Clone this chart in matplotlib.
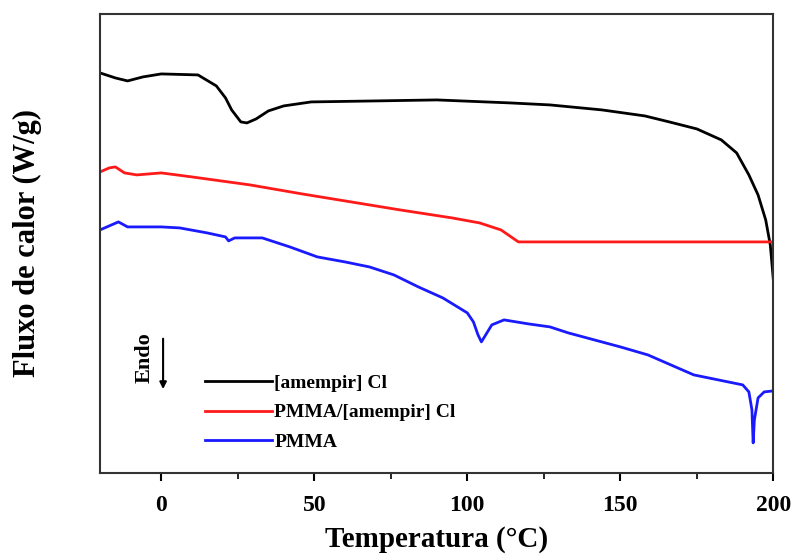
import matplotlib
matplotlib.use("Agg")
import matplotlib.pyplot as plt
from matplotlib.ticker import MultipleLocator

# DSC curves (arbitrary heat-flow units)
t_il = [-20, -15, -11, -6, 0, 12, 18, 21, 23, 26, 28, 31, 35, 40, 49, 70, 90,
        114, 127, 144, 158, 166, 175, 183, 188, 192, 195, 197.5, 199, 200]
q_il = [4.00, 3.95, 3.92, 3.96, 3.99, 3.98, 3.87, 3.75, 3.63, 3.51, 3.50, 3.54,
        3.62, 3.67, 3.71, 3.72, 3.73, 3.70, 3.68, 3.63, 3.57, 3.51, 3.44, 3.33,
        3.20, 2.98, 2.78, 2.53, 2.28, 1.93]

t_blend = [-20, -17, -15, -12, -8, 0, 10, 29, 46, 62, 78, 95, 104, 111, 116.7, 200]
q_blend = [3.01, 3.05, 3.06, 3.00, 2.98, 3.00, 2.96, 2.88, 2.79, 2.71, 2.63,
           2.55, 2.50, 2.43, 2.31, 2.31]

t_pmma = [-20, -17, -14, -11, 0, 6, 15, 21, 22, 24, 33, 42, 51, 60, 68, 76, 84,
          92, 100, 102, 103.5, 104.6, 106, 108, 112, 120, 127, 133, 150, 159,
          168, 174, 182, 190, 192, 193, 193.4, 193.8, 195, 197, 200]
q_pmma = [2.43, 2.47, 2.51, 2.46, 2.46, 2.45, 2.40, 2.36, 2.32, 2.35, 2.35, 2.26,
          2.16, 2.11, 2.06, 1.98, 1.86, 1.75, 1.60, 1.51, 1.38, 1.31, 1.38, 1.48,
          1.53, 1.49, 1.46, 1.40, 1.26, 1.18, 1.06, 0.98, 0.93, 0.88, 0.81, 0.63,
          0.30, 0.53, 0.75, 0.81, 0.82]

labels = ["[amempir] Cl", "PMMA/[amempir] Cl", "PMMA"]

SERIF = ["Liberation Serif", "DejaVu Serif"]
plt.rcParams.update({"font.family": SERIF, "font.weight": "bold",
                     "axes.labelweight": "bold"})

fig = plt.figure(figsize=(7.94, 5.57), dpi=100)
ax = fig.add_axes([0.126, 0.151, 0.848, 0.824])

ax.plot(t_il, q_il, color="black", lw=2, label=labels[0])
ax.plot(t_blend, q_blend, color="#FF1A1A", lw=2, label=labels[1])
ax.plot(t_pmma, q_pmma, color="#1A1AFF", lw=2, label=labels[2])

ax.set_xlim(-20, 200)
ax.set_ylim(0, 4.59)
ax.xaxis.set_major_locator(MultipleLocator(50))
ax.xaxis.set_minor_locator(MultipleLocator(25))
ax.set_yticks([])
ax.tick_params(axis="x", which="major", direction="out", length=6, width=1.5,
               labelsize=17, pad=10, top=False)
ax.tick_params(axis="x", which="minor", direction="out", length=4, width=1.2,
               top=False)
for s in ax.spines.values():
    s.set_linewidth(1.5)
    s.set_color("#333333")

ax.set_xlabel("Temperatura (°C)", fontsize=21)
ax.xaxis.set_label_coords(0.5, -0.115)
ax.set_ylabel("Fluxo de calor (W/g)", fontsize=22)
ax.yaxis.set_label_coords(-0.086, 0.5)

# endothermic direction marker
ax.annotate("", xy=(0.6, 0.81), xytext=(0.6, 1.37),
            arrowprops=dict(arrowstyle="-|>", color="black", lw=1.5,
                            mutation_scale=10))
ax.text(-5.6, 1.15, "Endo", rotation=90, ha="center", va="center", fontsize=16)

ax.legend(loc="upper left", bbox_to_anchor=(0.145, 0.232), frameon=False,
          fontsize=14, handlelength=3.4, handletextpad=0.15, labelspacing=0.62,
          borderaxespad=0)

fig.savefig("out.png", dpi=100)
